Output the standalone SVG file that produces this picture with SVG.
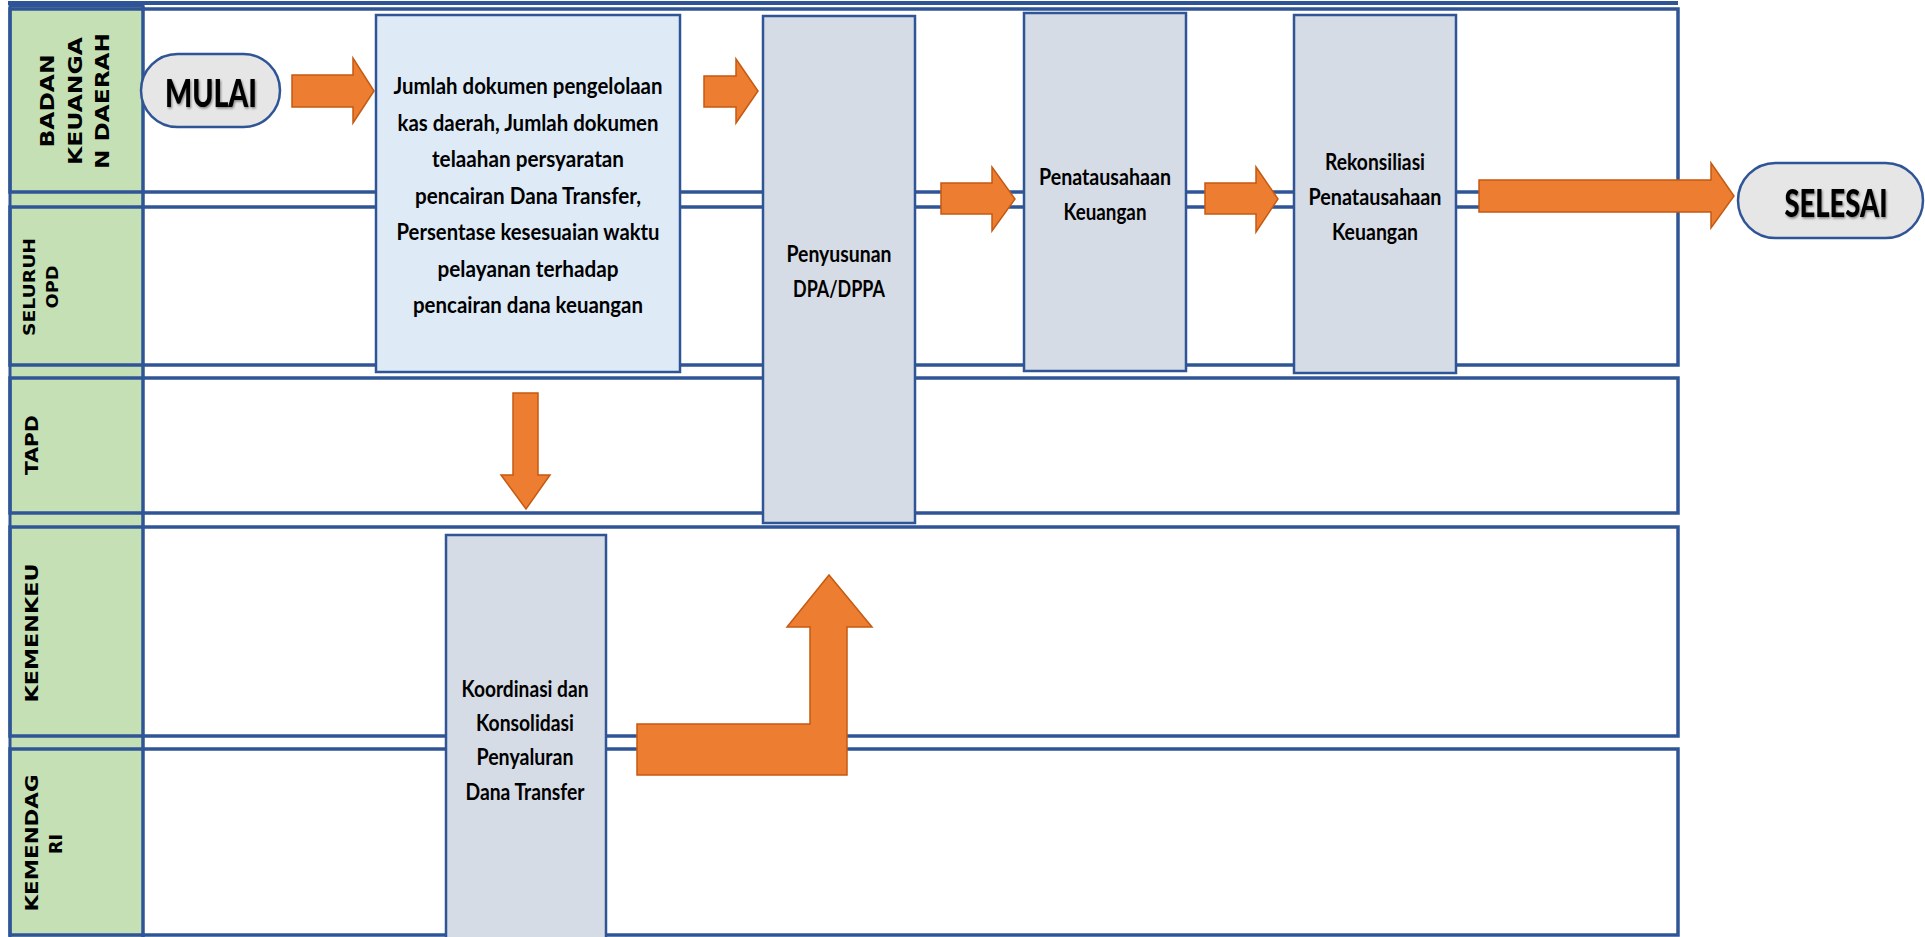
<svg xmlns="http://www.w3.org/2000/svg" width="1925" height="937" viewBox="0 0 1925 937">
  <defs>
    <filter id="tshadow" x="-10%" y="-20%" width="120%" height="140%">
      <feDropShadow dx="1" dy="1.5" stdDeviation="1" flood-color="#000" flood-opacity="0.45"/>
    </filter>
  </defs>
  <style>
    .lane { fill: none; stroke: #2F5597; stroke-width: 3.5; }
    .hdr { fill: #C5E0B4; stroke: #2F5597; stroke-width: 3; }
    .lbl { font-family: "DejaVu Sans", "Liberation Sans", sans-serif; font-weight: bold; fill: #000; text-anchor: middle; }
    .box1 { fill: #DEEBF7; stroke: #2F5597; stroke-width: 2.5; }
    .box2 { fill: #D6DCE5; stroke: #2F5597; stroke-width: 2.5; }
    .pill { fill: #E7E6E6; stroke: #2F5597; stroke-width: 2.5; }
    .t { font-family: Lato, "Liberation Sans", sans-serif; font-weight: bold; font-size: 23px; fill: #000; text-anchor: middle; }
    .big { font-family: Lato, "Liberation Sans", sans-serif; font-weight: 900; font-size: 38px; fill: #000; text-anchor: middle; filter: url(#tshadow); }
    .arr { fill: #ED7D31; stroke: #C55A11; stroke-width: 1.5; stroke-linejoin: miter; }
  </style>

  <rect width="1925" height="937" fill="#FFFFFF"/>

  <!-- top border remnant -->
  <line x1="8" y1="3" x2="1678" y2="3" stroke="#2F5597" stroke-width="4"/>

  <!-- lanes -->
  <g id="lanes">
    <rect class="hdr" x="10" y="6" width="133" height="935"/>
    <rect class="lane" x="10" y="9" width="1668" height="183"/>
    <rect class="lane" x="10" y="207" width="1668" height="158"/>
    <rect class="lane" x="10" y="378" width="1668" height="135"/>
    <rect class="lane" x="10" y="527" width="1668" height="209"/>
    <rect class="lane" x="10" y="749" width="1668" height="186"/>
    <line x1="143" y1="6" x2="143" y2="937" stroke="#2F5597" stroke-width="3"/>
  </g>

  <g id="lane-labels">
    <g id="lbl-badan">
      <text class="lbl" font-size="19" transform="translate(54,101) rotate(-90)" textLength="93" lengthAdjust="spacingAndGlyphs">BADAN</text>
      <text class="lbl" font-size="19" transform="translate(81.5,101) rotate(-90)" textLength="128" lengthAdjust="spacingAndGlyphs">KEUANGA</text>
      <text class="lbl" font-size="19" transform="translate(109,101) rotate(-90)" textLength="136" lengthAdjust="spacingAndGlyphs">N DAERAH</text>
    </g>
    <g id="lbl-opd">
      <text class="lbl" font-size="16" transform="translate(35,287) rotate(-90)" textLength="98" lengthAdjust="spacingAndGlyphs">SELURUH</text>
      <text class="lbl" font-size="16" transform="translate(57.5,287) rotate(-90)" textLength="43" lengthAdjust="spacingAndGlyphs">OPD</text>
    </g>
    <g id="lbl-tapd">
      <text class="lbl" font-size="17" transform="translate(37.5,445) rotate(-90)" textLength="60" lengthAdjust="spacingAndGlyphs">TAPD</text>
    </g>
    <g id="lbl-kemenkeu">
      <text class="lbl" font-size="17" transform="translate(38,633) rotate(-90)" textLength="139" lengthAdjust="spacingAndGlyphs">KEMENKEU</text>
    </g>
    <g id="lbl-kemendag">
      <text class="lbl" font-size="17" transform="translate(38,843) rotate(-90)" textLength="137" lengthAdjust="spacingAndGlyphs">KEMENDAG</text>
      <text class="lbl" font-size="17" transform="translate(62,844) rotate(-90)" textLength="20" lengthAdjust="spacingAndGlyphs">RI</text>
    </g>
  </g>

  <!-- nodes -->
  <g id="node-mulai">
    <rect class="pill" x="141" y="54" width="139" height="73" rx="36.5" ry="36.5"/>
    <text class="big" x="211" y="107" textLength="92" lengthAdjust="spacingAndGlyphs">MULAI</text>
  </g>

  <g id="node-jumlah">
    <rect class="box1" x="376" y="15" width="304" height="357"/>
    <text class="t" x="528" y="94" textLength="269" lengthAdjust="spacingAndGlyphs">Jumlah dokumen pengelolaan</text>
    <text class="t" x="528" y="130.5" textLength="261" lengthAdjust="spacingAndGlyphs">kas daerah, Jumlah dokumen</text>
    <text class="t" x="528" y="167" textLength="192" lengthAdjust="spacingAndGlyphs">telaahan persyaratan</text>
    <text class="t" x="528" y="203.5" textLength="226" lengthAdjust="spacingAndGlyphs">pencairan Dana Transfer,</text>
    <text class="t" x="528" y="240" textLength="263" lengthAdjust="spacingAndGlyphs">Persentase kesesuaian waktu</text>
    <text class="t" x="528" y="276.5" textLength="181" lengthAdjust="spacingAndGlyphs">pelayanan terhadap</text>
    <text class="t" x="528" y="313" textLength="230" lengthAdjust="spacingAndGlyphs">pencairan dana keuangan</text>
  </g>

  <g id="node-dpa">
    <rect class="box2" x="763" y="16" width="152" height="507"/>
    <text class="t" x="839" y="262" textLength="105" lengthAdjust="spacingAndGlyphs">Penyusunan</text>
    <text class="t" x="839" y="297" textLength="92" lengthAdjust="spacingAndGlyphs">DPA/DPPA</text>
  </g>

  <g id="node-penatausahaan">
    <rect class="box2" x="1024" y="13" width="162" height="358"/>
    <text class="t" x="1105" y="185" textLength="132" lengthAdjust="spacingAndGlyphs">Penatausahaan</text>
    <text class="t" x="1105" y="220" textLength="83" lengthAdjust="spacingAndGlyphs">Keuangan</text>
  </g>

  <g id="node-rekonsiliasi">
    <rect class="box2" x="1294" y="15" width="162" height="358"/>
    <text class="t" x="1375" y="170" textLength="100" lengthAdjust="spacingAndGlyphs">Rekonsiliasi</text>
    <text class="t" x="1375" y="205" textLength="133" lengthAdjust="spacingAndGlyphs">Penatausahaan</text>
    <text class="t" x="1375" y="240" textLength="86" lengthAdjust="spacingAndGlyphs">Keuangan</text>
  </g>

  <g id="node-koordinasi">
    <rect class="box2" x="446" y="535" width="160" height="410"/>
    <text class="t" x="525" y="697" textLength="127" lengthAdjust="spacingAndGlyphs">Koordinasi dan</text>
    <text class="t" x="525" y="731" textLength="98" lengthAdjust="spacingAndGlyphs">Konsolidasi</text>
    <text class="t" x="525" y="765" textLength="97" lengthAdjust="spacingAndGlyphs">Penyaluran</text>
    <text class="t" x="525" y="800" textLength="119" lengthAdjust="spacingAndGlyphs">Dana Transfer</text>
  </g>

  <g id="node-selesai">
    <rect class="pill" x="1738" y="163" width="185" height="75" rx="37.5" ry="37.5"/>
    <text class="big" x="1836" y="217" textLength="103" lengthAdjust="spacingAndGlyphs">SELESAI</text>
  </g>

  <!-- connectors -->
  <g id="connectors">
    <path class="arr" d="M292,75 H353 V58 L374,91 L353,123 V107 H292 Z"/>
    <path class="arr" d="M704,76 H736 V59 L758,91 L736,123 V107 H704 Z"/>
    <path class="arr" d="M941,183 H992 V167 L1015,199 L992,231 V214 H941 Z"/>
    <path class="arr" d="M1205,183 H1256 V167 L1278,199 L1256,232 V214 H1205 Z"/>
    <path class="arr" d="M1479,180 H1711 V163 L1734,196 L1711,228 V212 H1479 Z"/>
    <path class="arr" d="M513,393 H538 V475 H550 L526,509 L501,475 H513 Z"/>
    <path class="arr" d="M637,724 H810 V627 H787 L829,575 L872,627 H847 V775 H637 Z"/>
  </g>
</svg>
